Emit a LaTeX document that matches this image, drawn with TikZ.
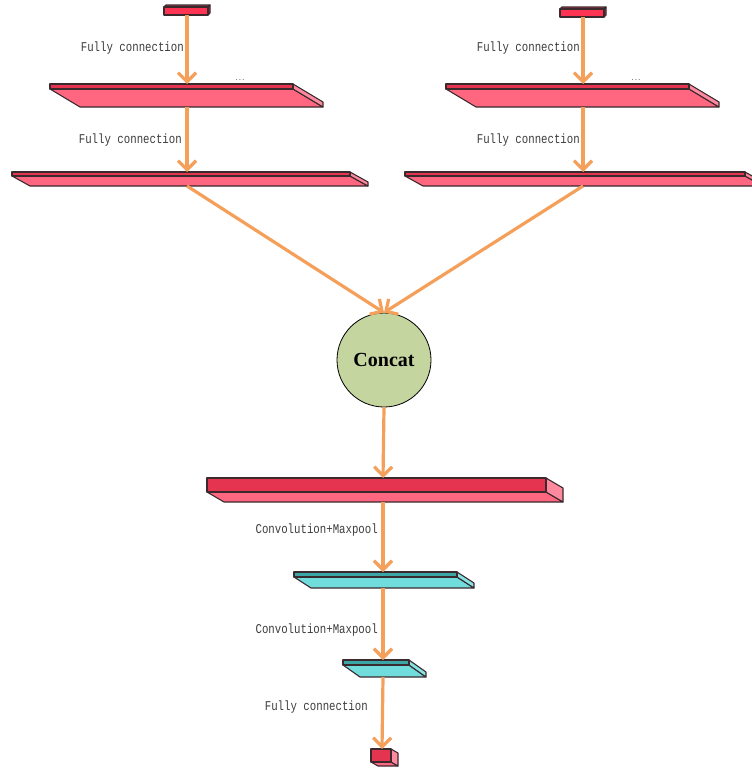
\documentclass[tikz,border=0pt]{standalone}
\usepackage{fontspec}
\newfontfamily\lblfont[FakeStretch=0.8]{Liberation Mono}
\newfontfamily\catfont{Liberation Serif}
\usetikzlibrary{arrows.meta}
\definecolor{flowor}{HTML}{F5A05A}
\definecolor{lblgray}{HTML}{3C3C3C}
\definecolor{slabline}{HTML}{3A2A2E}
\definecolor{redbright}{HTML}{FF3352}
\definecolor{redtop}{HTML}{C83A55}
\definecolor{redfront}{HTML}{E5344F}
\definecolor{redface}{HTML}{FF6680}
\definecolor{redside}{HTML}{FF8AA0}
\definecolor{cyanfront}{HTML}{3CA6A6}
\definecolor{cyanface}{HTML}{70DCDC}
\definecolor{cyanside}{HTML}{86E4E4}
\definecolor{concatfill}{HTML}{C5D59F}
\tikzset{
  flow/.style={draw=flowor, line width=3.2pt, -{Straight Barb[length=9pt,width=18pt]}},
  lbl/.style={font=\lblfont\fontsize{13.4}{14}\selectfont, text=lblgray, anchor=east, inner sep=0pt},
  dotmark/.style={font=\lblfont\fontsize{7}{7}\selectfont, text=lblgray, inner sep=0pt},
  slabedge/.style={draw=slabline, line width=1.1pt, line join=round},
  concatnode/.style={circle, draw=black, line width=0.8pt, fill=concatfill, minimum size=94pt,
    font=\catfont\bfseries\fontsize{20}{20}\selectfont},
}
\begin{document}
\begin{tikzpicture}[x=1pt,y=-1pt]
\useasboundingbox (0,0) rectangle (752,771);
% small input blocks
\foreach \n/\xa/\xb/\ya/\cx in {a1/164/208/7/187, a2/560/604/9/583}{
  \draw[slabedge,fill=redtop] (\xa,\ya) -- (\xa+2,\ya-2) -- (\xb+2,\ya-2) -- (\xb,\ya) -- cycle;
  \draw[slabedge,fill=redtop] (\xb,\ya) -- (\xb+2,\ya-2) -- (\xb+2,\ya+6) -- (\xb,\ya+8) -- cycle;
  \draw[slabedge,fill=redbright] (\xa,\ya) rectangle (\xb,\ya+8);
  \coordinate (\n-out) at (\cx,\ya+8);
}
% slabs: name/left/right/top/bottom/depth x/depth y/front/face/side/arrow x
\foreach \n/\xa/\xb/\ya/\yb/\dx/\dy/\cf/\cb/\cs/\cx in {
  b1/50/293/84/89/30/18/redfront/redface/redside/187,
  b2/446/689/84/89/30/18/redfront/redface/redside/583,
  c1/12/350/172/176/18/10/redfront/redface/redside/187,
  c2/405/745/172/176/18/10/redfront/redface/redside/583,
  d/207/546/478/492/17/10/redfront/redface/redside/383,
  e/294/457/572/577/17/11/cyanfront/cyanface/cyanside/383,
  f/343/409/660/665/17/12/cyanfront/cyanface/cyanside/383,
  g/371/391/749/762/7/4/redfront/redface/redside/382}{
  \draw[slabedge,fill=\cb] (\xa,\yb) -- (\xb,\yb) -- (\xb+\dx,\yb+\dy) -- (\xa+\dx,\yb+\dy) -- cycle;
  \draw[slabedge,fill=\cs] (\xb,\ya) -- (\xb+\dx,\ya+\dy) -- (\xb+\dx,\yb+\dy) -- (\xb,\yb) -- cycle;
  \draw[slabedge,fill=\cf] (\xa,\ya) rectangle (\xb,\yb);
  \coordinate (\n-in) at (\cx,\ya);
  \coordinate (\n-out) at (\cx,\yb+\dy);
}
\node[dotmark] (dots1) at (240,80) {...};
\node[dotmark] (dots2) at (636,80) {...};

\node[concatnode] (concat) at (384,360) {Concat};

% labels
\node[lbl] (fc1) at (184,48) {Fully connection};
\node[lbl] (fc2) at (182,140) {Fully connection};
\node[lbl] (fc3) at (580,48) {Fully connection};
\node[lbl] (fc4) at (580,140) {Fully connection};
\node[lbl] (cm1) at (378,530) {Convolution+Maxpool};
\node[lbl] (cm2) at (378,630) {Convolution+Maxpool};
\node[lbl] (fc5) at (368,707) {Fully connection};

% arrows
\draw[flow] (a1-out) -- (b1-in);
\draw[flow] (b1-out) -- (c1-in);
\draw[flow] (a2-out) -- (b2-in);
\draw[flow] (b2-out) -- (c2-in);
\draw[flow] (c1-out) -- (concat.north);
\draw[flow] (c2-out) -- (concat.north);
\draw[flow] (concat.south) -- (d-in);
\draw[flow] (d-out) -- (e-in);
\draw[flow] (e-out) -- (f-in);
\draw[flow] (f-out) -- (g-in);
\end{tikzpicture}
\end{document}
